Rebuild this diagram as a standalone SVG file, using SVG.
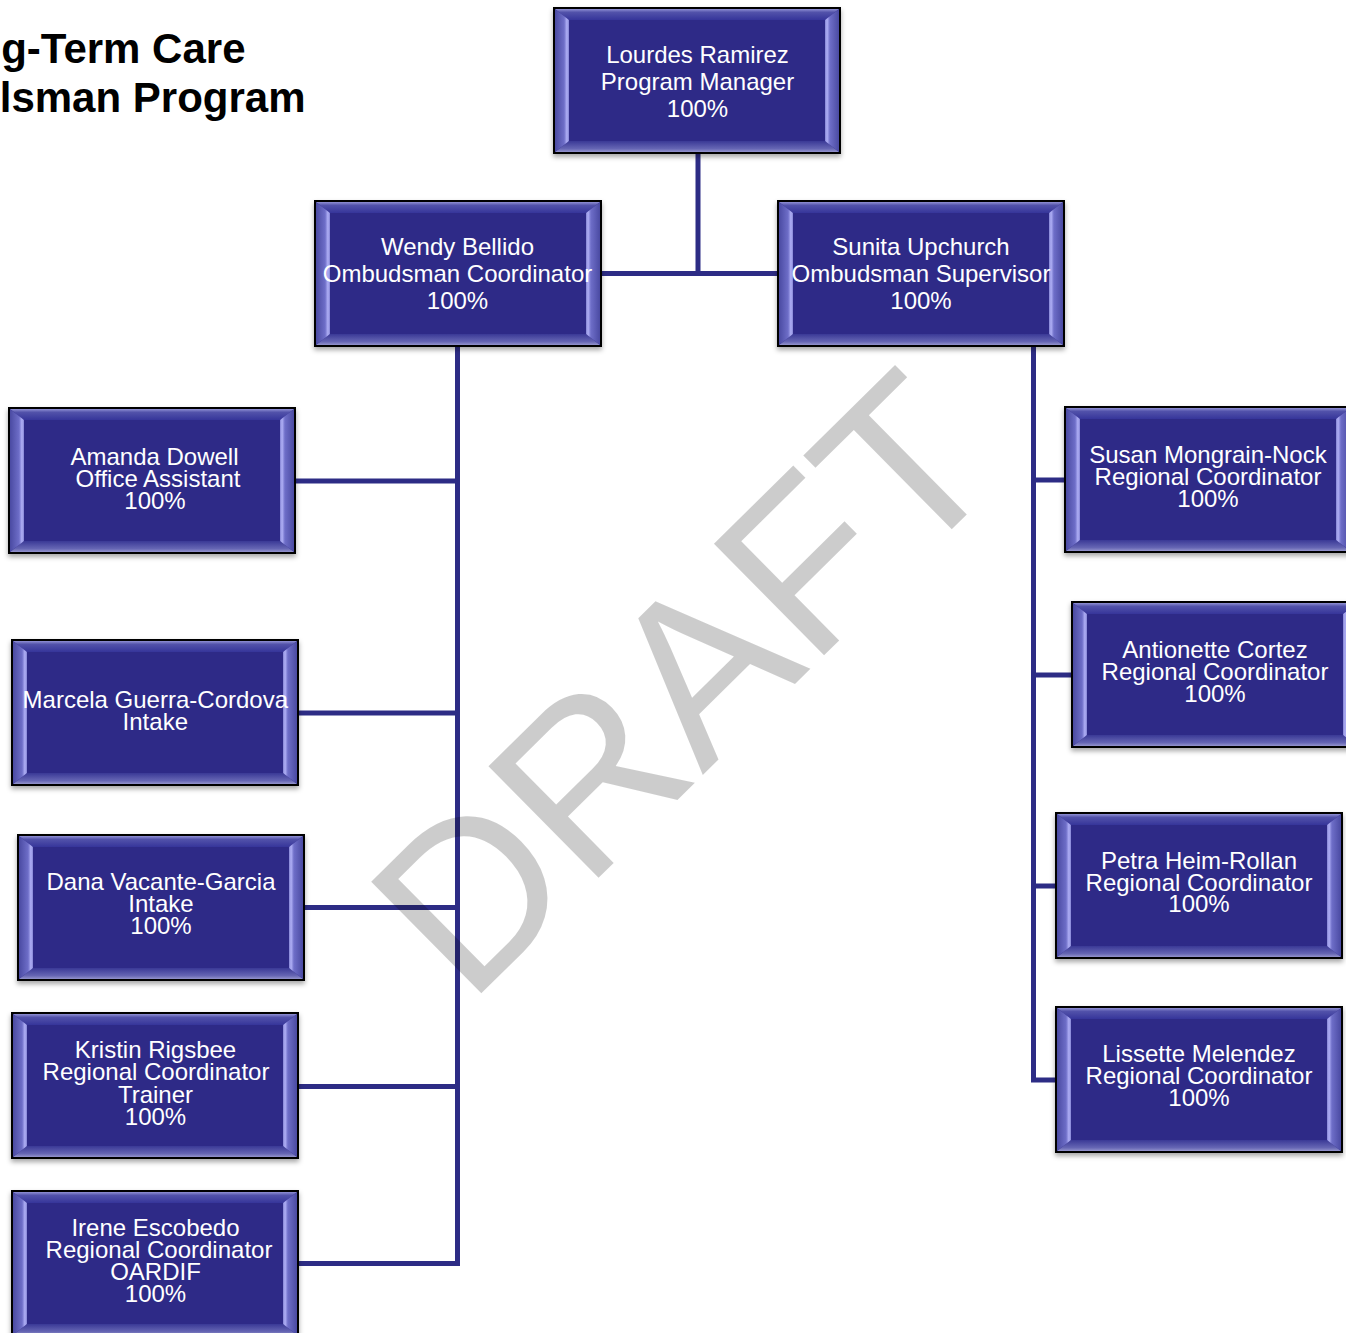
<svg xmlns="http://www.w3.org/2000/svg" xmlns:xlink="http://www.w3.org/1999/xlink" width="1346" height="1333" viewBox="0 0 1346 1333">
<style>
.t{font-family:"Liberation Sans",Arial,sans-serif;font-size:24px;fill:#fff;text-anchor:middle}
.title{font-family:"Liberation Sans",Arial,sans-serif;font-size:42px;font-weight:bold;fill:#000;text-anchor:end}
.conn{fill:none;stroke:#2D2C85;stroke-width:5}
.wm{font-family:"Liberation Sans",Arial,sans-serif;font-size:228px;fill:#000;fill-opacity:0.2}
</style>
<defs>
<filter id="sh" x="-10%" y="-10%" width="120%" height="130%">
<feDropShadow dx="0" dy="3" stdDeviation="2.5" flood-color="#000" flood-opacity="0.35"/>
</filter>
<linearGradient id="gl" x1="0" y1="0" x2="1" y2="0">
<stop offset="0" stop-color="#4A4AA2"/><stop offset="0.65" stop-color="#6E6EC8"/><stop offset="0.85" stop-color="#B0B0F6"/><stop offset="1" stop-color="#8484D4"/>
</linearGradient>
<linearGradient id="gr" x1="1" y1="0" x2="0" y2="0">
<stop offset="0" stop-color="#4A4AA2"/><stop offset="0.65" stop-color="#6E6EC8"/><stop offset="0.85" stop-color="#B0B0F6"/><stop offset="1" stop-color="#8484D4"/>
</linearGradient>
<linearGradient id="gt" x1="0" y1="0" x2="0" y2="1">
<stop offset="0" stop-color="#9090D4"/><stop offset="0.3" stop-color="#5252AA"/><stop offset="1" stop-color="#36359A"/>
</linearGradient>
<linearGradient id="gb" x1="0" y1="0" x2="0" y2="1">
<stop offset="0" stop-color="#3A3996"/><stop offset="0.7" stop-color="#6666B4"/><stop offset="1" stop-color="#9494CC"/>
</linearGradient>
<g id="box">
<rect x="0" y="0" width="286" height="145" fill="#2D2C87" stroke="#000" stroke-width="2" filter="url(#sh)"/>
<polygon points="1,1 285,1 271,12 15,12" fill="url(#gt)"/>
<polygon points="1,144 285,144 271,133 15,133" fill="url(#gb)"/>
<polygon points="1,1 15,12 15,133 1,144" fill="url(#gl)"/>
<polygon points="285,1 271,12 271,133 285,144" fill="url(#gr)"/>
</g>
</defs>
<rect width="1346" height="1333" fill="#fff"/>

<g id="title">
<text class="title" x="245.5" y="63">g-Term Care</text>
<text class="title" x="305.5" y="112">lsman Program</text>
</g>

<g id="connectors">
<path class="conn" d="M698,153 V273.5 M600,273.5 H778"/>
<path class="conn" d="M457.5,346 V1263.5 H298"/>
<path class="conn" d="M295,481 H457.5 M298,713 H457.5 M304,907.5 H457.5 M298,1086.5 H457.5"/>
<path class="conn" d="M1033.5,346 V1080 H1056"/>
<path class="conn" d="M1033.5,480 H1065 M1033.5,675 H1072 M1033.5,886 H1056"/>
</g>

<g id="n-lourdes">
<use xlink:href="#box" x="554" y="8"/>
<text class="t" x="697.5" y="63">Lourdes Ramirez</text>
<text class="t" x="697.5" y="90">Program Manager</text>
<text class="t" x="697.5" y="117">100%</text>
</g>
<g id="n-wendy">
<use xlink:href="#box" x="315" y="201"/>
<text class="t" x="457.5" y="255">Wendy Bellido</text>
<text class="t" x="457.5" y="282">Ombudsman Coordinator</text>
<text class="t" x="457.5" y="309">100%</text>
</g>
<g id="n-sunita">
<use xlink:href="#box" x="778" y="201"/>
<text class="t" x="921" y="255">Sunita Upchurch</text>
<text class="t" x="921" y="282">Ombudsman Supervisor</text>
<text class="t" x="921" y="309">100%</text>
</g>
<g id="n-amanda">
<use xlink:href="#box" x="9" y="408"/>
<text class="t" x="154.5" y="464.5">Amanda Dowell</text>
<text class="t" x="158" y="486.5">Office Assistant</text>
<text class="t" x="155" y="508.5">100%</text>
</g>
<g id="n-marcela">
<use xlink:href="#box" x="12" y="640"/>
<text class="t" x="155.3" y="708.3">Marcela Guerra-Cordova</text>
<text class="t" x="155.3" y="730">Intake</text>
</g>
<g id="n-dana">
<use xlink:href="#box" x="18" y="835"/>
<text class="t" x="161" y="890">Dana Vacante-Garcia</text>
<text class="t" x="161" y="912">Intake</text>
<text class="t" x="161" y="934">100%</text>
</g>
<g id="n-kristin">
<use xlink:href="#box" x="12" y="1013"/>
<text class="t" x="155.5" y="1058.3">Kristin Rigsbee</text>
<text class="t" x="156" y="1080.3">Regional Coordinator</text>
<text class="t" x="155.5" y="1102.5">Trainer</text>
<text class="t" x="155.5" y="1124.5">100%</text>
</g>
<g id="n-irene">
<use xlink:href="#box" x="12" y="1191"/>
<text class="t" x="155.5" y="1236">Irene Escobedo</text>
<text class="t" x="159" y="1258.3">Regional Coordinator</text>
<text class="t" x="155.5" y="1280">OARDIF</text>
<text class="t" x="155.5" y="1302">100%</text>
</g>
<g id="n-susan">
<use xlink:href="#box" x="1065" y="407"/>
<text class="t" x="1208" y="463.3">Susan Mongrain-Nock</text>
<text class="t" x="1208" y="485">Regional Coordinator</text>
<text class="t" x="1208" y="506.7">100%</text>
</g>
<g id="n-antionette">
<use xlink:href="#box" x="1072" y="602"/>
<text class="t" x="1215" y="657.7">Antionette Cortez</text>
<text class="t" x="1215" y="679.5">Regional Coordinator</text>
<text class="t" x="1215" y="701.5">100%</text>
</g>
<g id="n-petra">
<use xlink:href="#box" x="1056" y="813"/>
<text class="t" x="1199" y="869">Petra Heim-Rollan</text>
<text class="t" x="1199" y="890.7">Regional Coordinator</text>
<text class="t" x="1199" y="912.3">100%</text>
</g>
<g id="n-lissette">
<use xlink:href="#box" x="1056" y="1007"/>
<text class="t" x="1199" y="1062.3">Lissette Melendez</text>
<text class="t" x="1199" y="1084">Regional Coordinator</text>
<text class="t" x="1199" y="1106">100%</text>
</g>

<g id="watermark">
<text class="wm" transform="translate(467.9,1006.5) rotate(-44.6)" x="0" y="0">DRAFT</text>
</g>
</svg>
